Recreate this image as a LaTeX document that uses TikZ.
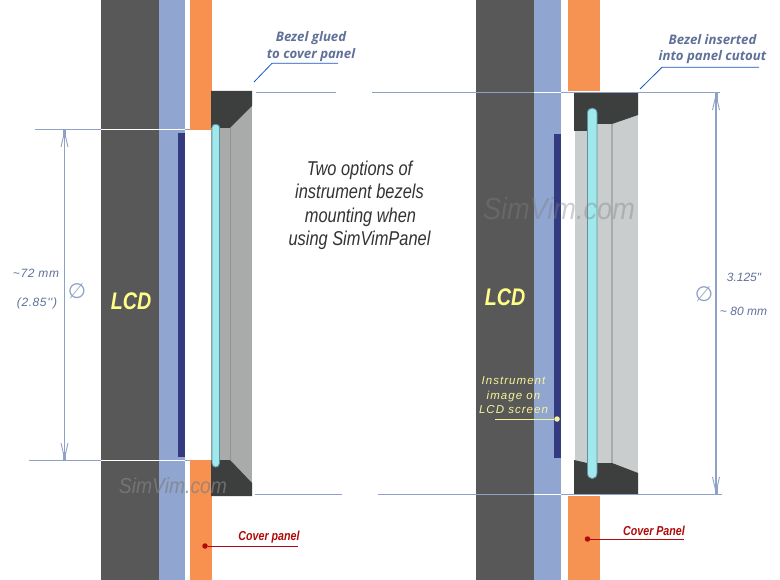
\documentclass[tikz,border=0pt]{standalone}
\usepackage{fontspec}
\setmainfont{Liberation Sans}
\newfontfamily\condfont[FakeStretch=0.82]{Liberation Sans}
\newfontfamily\wmfont[FakeStretch=0.89]{Liberation Sans}
\newfontfamily\labfont{Liberation Sans}
\newfontfamily\headfont{Open Sans}
\newfontfamily\symfont{DejaVu Sans}
\definecolor{lcdgray}{HTML}{585858}
\definecolor{lcdblue}{HTML}{90A5CF}
\definecolor{panelor}{HTML}{F8914F}
\definecolor{panelorb}{HTML}{F69252}
\definecolor{navy}{HTML}{343A80}
\definecolor{bezeldark}{HTML}{3D3F3F}
\definecolor{bezelmid}{HTML}{A9ABAA}
\definecolor{bezellight}{HTML}{C9CDCD}
\definecolor{bezelline}{HTML}{8F9392}
\definecolor{lensfill}{HTML}{A0E9EA}
\definecolor{lensedge}{HTML}{5F8FA8}
\definecolor{dimline}{HTML}{8FA2C5}
\definecolor{dimtext}{HTML}{5F7199}
\definecolor{leadblue}{HTML}{1A55BE}
\definecolor{redlab}{HTML}{B00A0A}
\definecolor{lcdyellow}{HTML}{FFFF88}
\definecolor{imgyellow}{HTML}{F8F49A}
\usetikzlibrary{arrows.meta}
\tikzset{
  x=1pt,y=-1pt,
  flat/.style={fill=#1,draw=none},
  dimln/.style={draw=dimline,line width=1.1pt},
  whiteln/.style={draw=white,line width=1.1pt},
  dimarrow/.style={draw=dimline,line width=1.1pt,{Straight Barb[length=15pt,width=7pt,line width=.9pt]}-{Straight Barb[length=15pt,width=7pt,line width=.9pt]}},
  dimtip/.style={draw=dimline,line width=3pt},
  leadln/.style={draw=leadblue,line width=.8pt},
  redln/.style={draw=redlab,line width=1pt},
  reddot/.style={circle,fill=redlab,inner sep=0pt,minimum size=5.5pt},
  yeldot/.style={circle,fill=imgyellow,inner sep=0pt,minimum size=5.5pt},
  headlab/.style={font=\headfont\bfseries\itshape\fontsize{13.2}{16.5}\selectfont,text=dimtext,align=center,inner sep=0pt},
  dimlab/.style={font=\labfont\itshape\fontsize{12}{14}\selectfont,text=dimtext,inner sep=0pt},
  redlabel/.style={font=\condfont\bfseries\itshape\fontsize{13}{15}\selectfont,text=redlab,inner sep=0pt},
  lcdlab/.style={font=\condfont\bfseries\itshape\fontsize{24}{28}\selectfont,text=lcdyellow,inner sep=0pt},
  mark sym/.style={font=\symfont\fontsize{21}{24}\selectfont,text=dimline,inner sep=0pt},
  water/.style={font=\wmfont\itshape\fontsize{#1}{#1}\selectfont,text=gray,inner sep=0pt,text opacity=.72},
  lens/.style={fill=lensfill,draw=lensedge,line width=.8pt},
}
\begin{document}
\begin{tikzpicture}
\useasboundingbox (0,0) rectangle (780,580);
\fill[white] (0,0) rectangle (780,580);
% ---- left assembly
\path[flat=lcdgray] (101,0) rectangle (159,580);
\path[flat=lcdblue] (159,0) rectangle (185,580);
\path[flat=navy] (178,133) rectangle (185,457);
\path[flat=panelor] (190,0) rectangle (212,130);
\path[flat=panelor] (190,460) rectangle (212,580);
\path[flat=bezelmid] (211,95) rectangle (252,490);
\path[flat=bezeldark] (211,91) -- (252,91) -- (252,106) -- (230,128) -- (211,128) -- cycle;
\path[flat=bezeldark] (211,460) -- (230,460) -- (252,483) -- (252,496) -- (211,496) -- cycle;
\draw[bezelline,line width=.9pt] (230,128) -- (230,460);
\draw[lens] (212,127) .. controls (212,123.5) and (219.5,123.5) .. (219.5,127) -- (219.5,463)
  .. controls (219.5,468.5) and (212,468.5) .. (212,463) -- cycle;
% ---- right assembly
\path[flat=lcdgray] (476,0) rectangle (534,580);
\path[flat=lcdblue] (534,0) rectangle (561,580);
\path[flat=navy] (554,134) rectangle (561,458);
\path[flat=panelorb] (568,0) rectangle (600,91);
\path[flat=panelorb] (568,496) rectangle (600,580);
\path[flat=bezellight] (575,100) rectangle (638,485);
\path[flat=bezeldark] (574,93) -- (638,93) -- (638,115) -- (612,124) -- (587,124) -- (587,131) -- (574,131) -- cycle;
\path[flat=bezeldark] (574,460) -- (587,463) -- (612,463) -- (638,473) -- (638,494) -- (574,494) -- cycle;
\draw[bezelmid,line width=2.4pt] (612,124) -- (612,463);
\draw[lens] (587.5,113) .. controls (587.5,106.5) and (597,106.5) .. (597,113) -- (597,473)
  .. controls (597,480.5) and (587.5,480.5) .. (587.5,473) -- cycle;
% ---- coordinates of free ends
\coordinate (tl1) at (35,129.5);   \coordinate (tl2) at (190,129.5);
\coordinate (bl1) at (29,460.5);   \coordinate (bl2) at (190,460.5);
\coordinate (ta1) at (256,92.5);   \coordinate (ta2) at (336,92.5);
\coordinate (ta3) at (372,92.5);   \coordinate (ta4) at (720,92.5);
\coordinate (ba1) at (255,494.7);  \coordinate (ba2) at (342,494.7);
\coordinate (ba3) at (378,494.7);  \coordinate (ba4) at (722,494.7);
% ---- dimension lines
\draw[dimln] (tl1) -- (tl2);
\draw[dimln] (bl1) -- (bl2);
\draw[whiteln] (101,129.5) -- (185,129.5);
\draw[whiteln] (101,460.5) -- (185,460.5);
\draw[dimln] (ta1) -- (ta2);
\draw[dimln] (ta3) -- (ta4);
\draw[whiteln] (534,92.5) -- (561,92.5);
\draw[dimln] (ba1) -- (ba2);
\draw[dimln] (ba3) -- (ba4);
\draw[whiteln] (534,494.7) -- (561,494.7);
\coordinate (la) at (64.5,130); \coordinate (lb) at (64.5,460);
\coordinate (ra) at (716,93);   \coordinate (rb) at (716,494);
\draw[dimarrow] (la) -- (lb);
\draw[dimarrow] (ra) -- (rb);
\draw[dimtip] (la) -- ++(0,8);
\draw[dimtip] (lb) -- ++(0,-8);
\draw[dimtip] (ra) -- ++(0,8);
\draw[dimtip] (rb) -- ++(0,-8);
% ---- watermarks
\node[water=21.7] (wm1) at (173,486) {SimVim.com};
\node[water=30.5,text opacity=.38] (wm2) at (559,209) {SimVim.com};
% ---- text
\node[headlab] (h1) at (311,46.5) {Bezel glued\\to cover panel};
\node[headlab] (h2) at (712.5,49) {Bezel inserted\\into panel cutout};
\coordinate (h1a) at (272,63.3); \coordinate (h1b) at (338,63.3); \coordinate (h1c) at (254,82);
\coordinate (h2a) at (662,67.3); \coordinate (h2b) at (759,67.3); \coordinate (h2c) at (640,89);
\draw[leadln] (h1c) -- (h1a) -- (h1b);
\draw[leadln] (h2c) -- (h2a) -- (h2b);
\node[font=\condfont\itshape\fontsize{20}{23.5}\selectfont,text=black!80,align=center,inner sep=0pt] (mid) at (359.5,205.5)
  {Two options of\\instrument bezels\\\hspace*{2pt}mounting when\\using SimVimPanel};
\node[lcdlab] (lcd1) at (131,301) {LCD};
\node[lcdlab] (lcd2) at (505,297) {LCD};
\node[dimlab] (d1) at (36,273) {\addfontfeature{LetterSpace=5}\char`\~72 mm};
\node[dimlab] (d2) at (37,303) {\addfontfeature{LetterSpace=5}(2.85'')};
\node[dimlab] (d3) at (744,277.5) {3.125"};
\node[dimlab] (d4) at (743.5,311) {\char`\~{} 80 mm};
\node[mark sym] (p1) at (77,291) {∅};
\node[mark sym] (p2) at (704,294) {∅};
% ---- instrument image label
\node[font=\labfont\itshape\fontsize{11.5}{14.5}\selectfont,text=imgyellow,align=center,inner sep=0pt] (img) at (513.5,395.5)
  {\addfontfeature{LetterSpace=9}Instrument\\\addfontfeature{LetterSpace=9}image on\\\addfontfeature{LetterSpace=9}LCD screen};
\node[yeldot] (imgd) at (557,419) {};
\coordinate (imgs) at (495,419);
\draw[draw=imgyellow,line width=.9pt] (imgs) -- (imgd);
% ---- cover panel labels
\node[reddot] (c1) at (205,546) {};
\coordinate (c1e) at (298,546);
\draw[redln] (c1) -- (c1e);
\node[redlabel] (c1t) at (269,537) {Cover panel};
\node[reddot] (c2) at (587.5,539) {};
\coordinate (c2e) at (684,539);
\draw[redln] (c2) -- (c2e);
\node[redlabel] (c2t) at (654,530.5) {Cover Panel};
\end{tikzpicture}
\end{document}
